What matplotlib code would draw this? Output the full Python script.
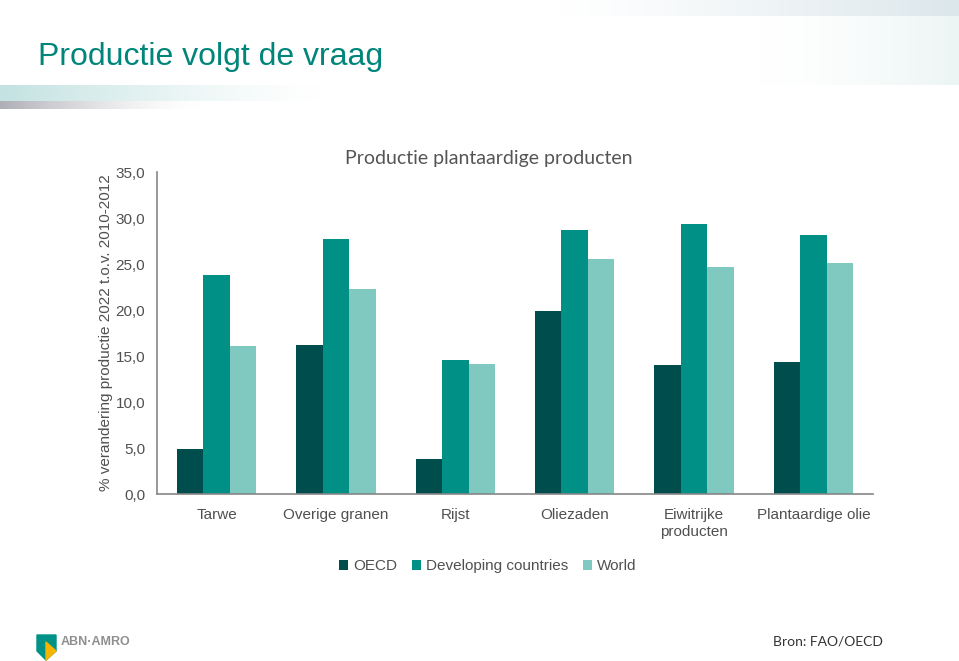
import numpy as np
import matplotlib.pyplot as plt
from matplotlib.colors import to_rgb
from matplotlib.patches import Polygon

# data
categories = ['Tarwe', 'Overige granen', 'Rijst', 'Oliezaden', 'Eiwitrijke\nproducten', 'Plantaardige olie']
oecd = [4.9, 16.2, 3.8, 19.9, 14.0, 14.3]
developing = [23.8, 27.7, 14.6, 28.7, 29.4, 28.2]
world = [16.1, 22.3, 14.1, 25.5, 24.7, 25.1]
series_names = ['OECD', 'Developing countries', 'World']
colors = ['#004d4d', '#009085', '#80c9c1']
yticks = [0, 5, 10, 15, 20, 25, 30, 35]

plt.rcParams['font.family'] = ['Liberation Sans', 'DejaVu Sans']

fig = plt.figure(figsize=(9.59, 6.61), dpi=100)


def fade(color, reverse=False, power=1.5):
    # horizontal gradient from white to color
    t = np.linspace(0, 1, 256) ** power
    if reverse:
        t = t[::-1]
    c = np.array(to_rgb(color))
    img = 1 - t[:, None] * (1 - c[None, :])
    return img[None, :, :]


# slide decoration (gradient bands)
deco = fig.add_axes([0, 0, 1, 1], zorder=-1)
deco.set_xlim(0, 959)
deco.set_ylim(661, 0)
deco.axis('off')
deco.imshow(fade('#dce7eb', power=1.2), extent=(560, 959, 16, 0), aspect='auto')
deco.imshow(fade('#ecf5f4', power=1.5), extent=(760, 959, 85, 16), aspect='auto')
deco.imshow(fade('#c3e2e1', reverse=True, power=1.3), extent=(0, 320, 101, 85), aspect='auto')
deco.imshow(fade('#aeaeb6', reverse=True, power=1.6), extent=(0, 200, 109, 101), aspect='auto')

fig.text(38 / 959, 1 - 57 / 661, 'Productie volgt de vraag', fontsize=23, color='#00857a',
         va='center', ha='left')

# logo
deco.add_patch(Polygon([(37, 635), (56, 635), (56, 651), (46, 660), (37, 651)],
                       closed=True, color='#009286'))
deco.add_patch(Polygon([(46, 642), (56, 651), (46, 660)], closed=True, color='#f5b400'))
fig.text(61 / 959, 1 - 642 / 661, 'ABN·AMRO', fontsize=9, color='#8f8f8f',
         fontweight='bold', va='center', ha='left', fontstretch='condensed')
fig.text(883 / 959, 1 - 641 / 661, 'Bron: FAO/OECD', fontsize=10, color='#333333',
         va='center', ha='right', family=['Lato', 'DejaVu Sans'])

ax = fig.add_axes([157 / 959, 1 - 494 / 661, 716 / 959, 322 / 661])
x = np.arange(len(categories))
w = 0.222
for i, (vals, name) in enumerate(zip([oecd, developing, world], series_names)):
    ax.bar(x + (i - 1) * w, vals, width=w, color=colors[i], label=name)

ax.set_xlim(-0.5, len(categories) - 0.5)
ax.set_ylim(0, 35)
ax.set_yticks(yticks)
ax.yaxis.set_major_formatter(plt.FuncFormatter(lambda v, p: ('%.1f' % v).replace('.', ',')))
ax.set_xticks(x)
ax.set_xticklabels(categories, fontsize=11, color='#505050', linespacing=1.3)
ax.tick_params(axis='both', length=0, labelsize=11, labelcolor='#505050')
ax.tick_params(axis='x', pad=10)
ax.tick_params(axis='y', pad=8.5)
for s in ['top', 'right']:
    ax.spines[s].set_visible(False)
for s in ['left', 'bottom']:
    ax.spines[s].set_color('#868686')
    ax.spines[s].set_linewidth(1.2)

ax.set_ylabel('% verandering productie 2022 t.o.v. 2010-2012', fontsize=11, color='#505050', labelpad=1.5)
ax.set_title('Productie plantaardige producten', fontsize=14, color='#555555',
             family=['Lato', 'DejaVu Sans'], pad=6, x=0.464)

ax.legend(loc='upper center', bbox_to_anchor=(0.462, -0.16), ncol=3, frameon=False,
          fontsize=11, handlelength=0.6, handleheight=0.6, handletextpad=0.3,
          columnspacing=1.0, labelcolor='#505050')

fig.savefig('out.png', dpi=100)
